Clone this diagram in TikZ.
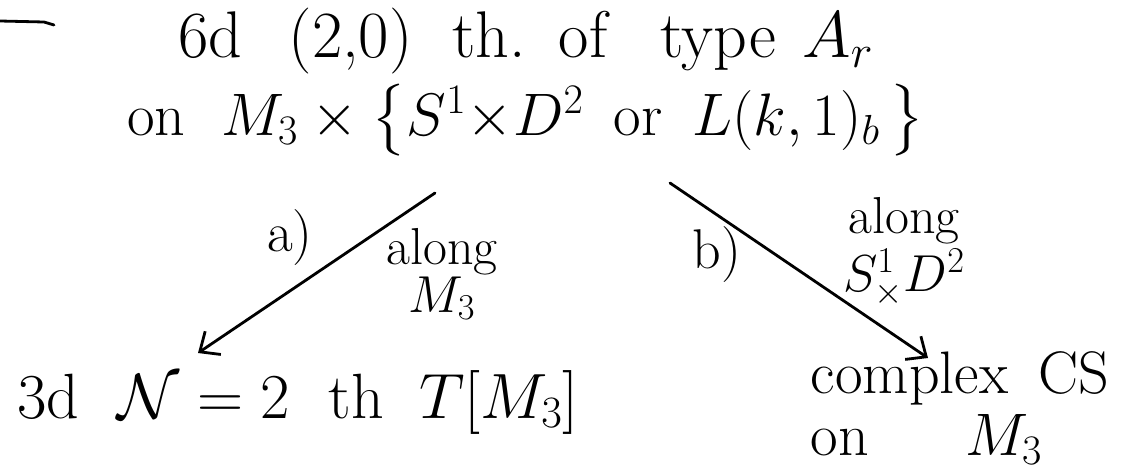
\RequirePackage{fix-cm}
\documentclass[tikz,border=0pt]{standalone}
\usepackage{amsmath, amssymb}
\usepackage{tikz}
\usetikzlibrary{positioning, arrows.meta, calc}

\begin{document}
\begin{tikzpicture}[x=0.5pt, y=-0.5pt, >={Straight Barb[length=8pt, width=14pt]}, line width=1.4pt, line cap=round]
  \useasboundingbox (0,0) rectangle (1124,476);
  % nodes
  \node[font=\fontsize{33}{39}\selectfont, align=center] (theory) at (526,82)
    {6d\hspace{0.7em}(2,0)\hspace{0.6em}th.\hspace{0.5em}of\hspace{0.8em}type\hspace{0.4em}$A_r$\\
     \fontsize{30}{39}\selectfont on\hspace{0.6em}$M_3\times\bigl\{S^1{\times}D^2$\hspace{0.5em}or\hspace{0.5em}$L(k,1)_b\,\bigr\}$};
  \node[font=\fontsize{32}{39}\selectfont] (tmthree) at (298,402)
    {3d\hspace{0.6em}$\mathcal{N}=2$\hspace{0.6em}th\hspace{0.55em}$T[M_3]$};
  \node[font=\fontsize{30}{31}\selectfont, align=left] (cs) at (960,408)
    {complex\hspace{0.5em}CS\\ on\hspace{1.6em}$M_3$};
  % labels
  \node[font=\fontsize{28}{34}\selectfont] (la) at (290,238) {a)};
  \node[font=\fontsize{26}{24}\selectfont, align=center] (alonga) at (442,274) {along\\ $M_3$};
  \node[font=\fontsize{28}{34}\selectfont] (lb) at (717,255) {b)};
  \node[font=\fontsize{26}{29}\selectfont, align=center] (alongb) at (904,252) {along\\ $S^1_{\times}D^2$};
  % arrows
  \draw[->] ($(theory.center)+(-91,111)$) -- ($(tmthree.center)+(-100,-49)$);
  \draw[->] ($(theory.center)+(144,101)$) -- ($(cs.center)+(-32,-50)$);
  % underline in the corner
  \draw (0,21) -- (44,22) -- (54,25);
\end{tikzpicture}
\end{document}
